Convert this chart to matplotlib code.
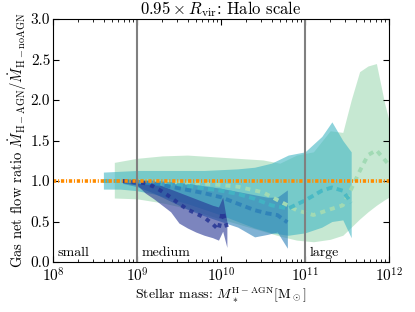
import numpy as np
import matplotlib
matplotlib.use("Agg")
import matplotlib.pyplot as plt
from matplotlib.ticker import LogLocator, NullFormatter

plt.rcParams['font.family'] = ['cmr10', 'DejaVu Serif']
plt.rcParams['mathtext.fontset'] = 'cm'
plt.rcParams['axes.formatter.use_mathtext'] = True
plt.rcParams['font.size'] = 10

# Data: log10 stellar mass, median, lower, upper
navy_x   = [8.83, 9.0, 9.1, 9.2, 9.3, 9.4, 9.5, 9.6, 9.7, 9.8, 9.9, 9.97, 10.02, 10.07]
navy_med = [1.00, 0.99, 0.97, 0.93, 0.87, 0.8, 0.72, 0.65, 0.6, 0.55, 0.47, 0.40, 0.62, 0.43]
navy_lo  = [0.98, 0.95, 0.85, 0.78, 0.70, 0.62, 0.48, 0.42, 0.37, 0.33, 0.30, 0.27, 0.38, 0.18]
navy_hi  = [1.02, 1.01, 1.00, 0.97, 0.94, 0.90, 0.86, 0.82, 0.78, 0.74, 0.70, 0.68, 0.80, 0.50]

blue_x   = [8.83, 9.0, 9.2, 9.4, 9.6, 9.8, 10.0, 10.2, 10.4, 10.55, 10.67, 10.79]
blue_med = [1.00, 0.99, 0.97, 0.93, 0.89, 0.85, 0.80, 0.72, 0.64, 0.60, 0.58, 0.49]
blue_lo  = [0.97, 0.93, 0.85, 0.75, 0.65, 0.57, 0.50, 0.43, 0.31, 0.34, 0.37, 0.17]
blue_hi  = [1.03, 1.02, 1.01, 0.99, 0.97, 0.94, 0.91, 0.87, 0.83, 0.80, 0.80, 0.89]

teal_x   = [8.6, 8.8, 9.0, 9.2, 9.4, 9.6, 9.8, 10.0, 10.2, 10.4, 10.6, 10.8, 11.0, 11.2, 11.32, 11.45, 11.55]
teal_med = [1.00, 1.00, 0.99, 0.98, 0.96, 0.94, 0.91, 0.88, 0.84, 0.78, 0.70, 0.66, 0.76, 0.88, 0.92, 0.88, 0.73]
teal_lo  = [0.90, 0.90, 0.88, 0.84, 0.78, 0.72, 0.65, 0.58, 0.50, 0.42, 0.36, 0.33, 0.36, 0.43, 0.50, 0.52, 0.30]
teal_hi  = [1.11, 1.12, 1.13, 1.13, 1.13, 1.13, 1.13, 1.14, 1.15, 1.17, 1.22, 1.32, 1.36, 1.55, 1.73, 1.50, 1.36]

green_x   = [8.73, 9.0, 9.3, 9.6, 9.9, 10.2, 10.5, 10.7, 10.9, 11.1, 11.3, 11.45, 11.55, 11.65, 11.75, 11.85, 11.95, 12.0]
green_med = [1.00, 1.00, 0.99, 0.98, 0.96, 0.93, 0.86, 0.75, 0.64, 0.58, 0.65, 0.70, 0.90, 1.12, 1.32, 1.38, 1.26, 1.20]
green_lo  = [0.79, 0.78, 0.73, 0.66, 0.56, 0.47, 0.38, 0.32, 0.27, 0.25, 0.28, 0.33, 0.43, 0.53, 0.62, 0.70, 0.77, 0.80]
green_hi  = [1.23, 1.28, 1.31, 1.32, 1.30, 1.28, 1.26, 1.22, 1.32, 1.36, 1.62, 1.60, 2.00, 2.35, 2.42, 2.45, 1.95, 1.75]

ref_x = [8.0, 12.0]
ref_y = [1.0, 1.0]
vlines = [1e9, 1e11]
cols = ['#253494', '#2c7fb8', '#41b6c4', '#a1dab4']

fig = plt.figure(figsize=(4.15, 3.12), dpi=100)
ax = fig.add_axes([53/415, 1-262/312, 336/415, 243/312])

series = [
    (green_x, green_med, green_lo, green_hi, cols[3], (0, (1.3, 1.3))),
    (teal_x, teal_med, teal_lo, teal_hi, cols[2], (0, (1.6, 1.1))),
    (blue_x, blue_med, blue_lo, blue_hi, cols[1], (0, (1.6, 1.1))),
    (navy_x, navy_med, navy_lo, navy_hi, cols[0], (0, (1.1, 1.3))),
]
for x, m, lo, hi, c, ls in series:
    xx = 10 ** np.array(x)
    ax.fill_between(xx, lo, hi, color=c, alpha=0.6, linewidth=0)
for x, m, lo, hi, c, ls in series:
    xx = 10 ** np.array(x)
    ax.plot(xx, m, color=c, linestyle=ls, linewidth=2.8,
            alpha=0.85 if c != cols[3] else 1.0)

ax.plot(10 ** np.array(ref_x), ref_y, color='#ff8c00',
        linestyle=(0, (0.9, 0.5, 0.3, 0.5)), linewidth=2.6)

for v in vlines:
    ax.axvline(v, color='gray', linewidth=1.5)

ax.set_xscale('log')
ax.set_xlim(1e8, 1e12)
ax.set_ylim(0, 3)
ax.set_yticks([0, 0.5, 1.0, 1.5, 2.0, 2.5, 3.0])
ax.set_yticklabels(['0.0', '0.5', '1.0', '1.5', '2.0', '2.5', '3.0'])
ax.xaxis.set_minor_locator(LogLocator(base=10, subs=np.arange(2, 10), numticks=20))
ax.xaxis.set_minor_formatter(NullFormatter())
ax.tick_params(which='both', direction='in', top=True, right=True, labelsize=11)
ax.tick_params(axis='y', pad=2)
ax.tick_params(axis='x', pad=3)
ax.tick_params(which='major', length=4)
ax.tick_params(which='minor', length=2)

ax.text(1.12e8, 0.04, 'small', fontsize=10, va='bottom')
ax.text(1.12e9, 0.04, 'medium', fontsize=10, va='bottom')
ax.text(1.12e11, 0.04, 'large', fontsize=10, va='bottom')

ax.set_title(r'$0.95\times R_{\rm vir}$: Halo scale', fontsize=12, pad=2)
ax.set_xlabel(r'Stellar mass: $M_*^{\rm H-AGN}[{\rm M}_\odot]$', fontsize=10, labelpad=1)
ax.set_ylabel(r'Gas net flow ratio $\dot{M}_{\rm H-AGN}/\dot{M}_{\rm H-noAGN}$', fontsize=10.5, labelpad=1)

fig.savefig('out.png', dpi=100)
